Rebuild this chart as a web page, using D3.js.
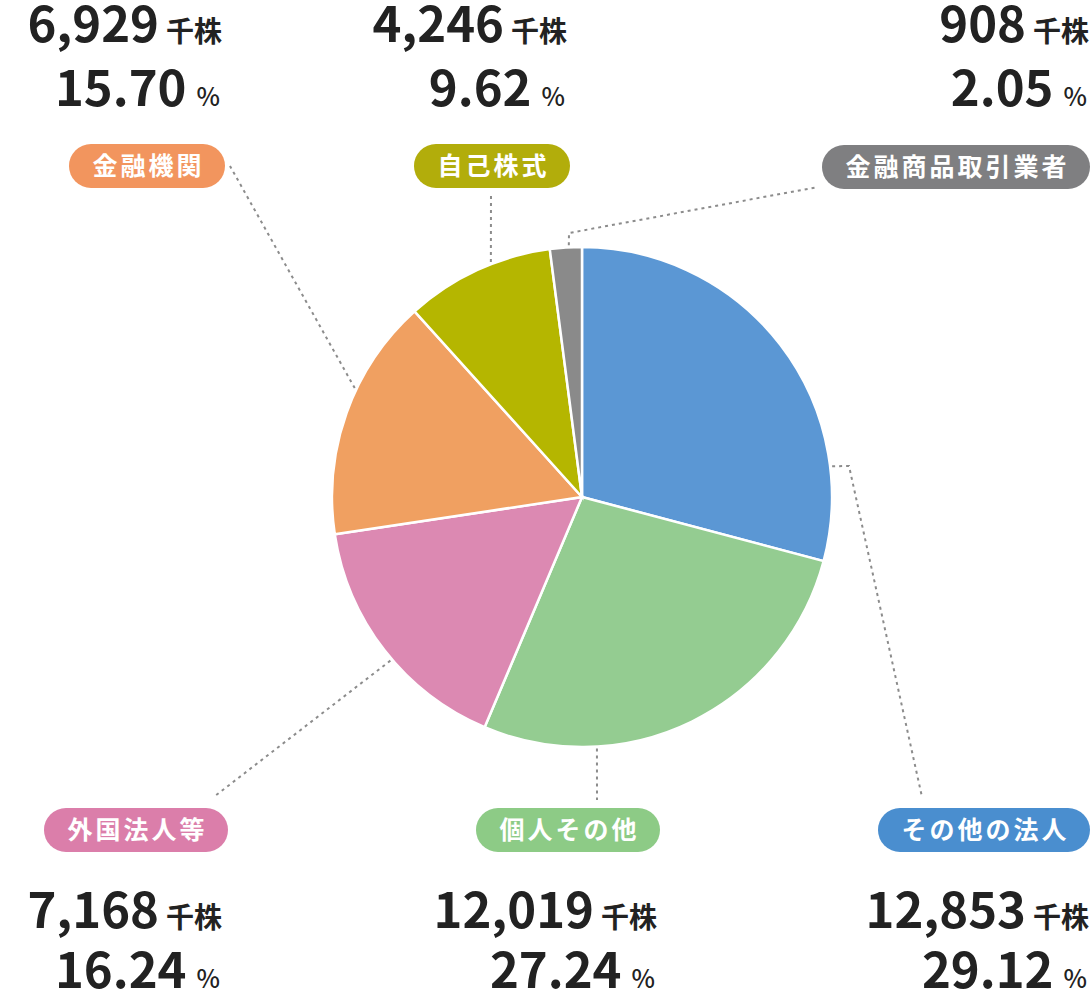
<!DOCTYPE html>
<html lang="ja">
<head>
<meta charset="utf-8">
<script src="https://cdn.jsdelivr.net/npm/d3@7"></script>
<style>
  body { margin: 0; background: #fff; }
  svg { display: block; font-family: "Noto Sans CJK JP", "Noto Sans", sans-serif; }
</style>
</head>
<body>
<svg id="chart" width="1092" height="996"></svg>
<script>
// data, clockwise from 12 o'clock
const categories = ['その他の法人', '個人その他', '外国法人等', '金融機関', '自己株式', '金融商品取引業者'];
const shares = [12853, 12019, 7168, 6929, 4246, 908]; // 千株
const percents = ['29.12', '27.24', '16.24', '15.70', '9.62', '2.05'];
const sliceColors = ['#5b97d4', '#94cc91', '#dc89b2', '#f0a061', '#b5b600', '#8a8a8a'];
const pillColors = ['#4a8ecf', '#8dcb86', '#db7eaa', '#f2955e', '#b2ad0b', '#7f7f81'];

// label layout: right edge of text block, pill centre y, number baselines, leader
const labelPos = [
  { right: 1089, pillRight: 1090, pillY: 830, numY: 928, pctY: 988, angle: 83, elbow: [[849, 466]], end: [922, 797] },
  { right: 657, pillRight: 660, pillY: 830, numY: 928, pctY: 988, angle: 176.6, elbow: [], end: [597, 800] },
  { right: 222, pillRight: 228, pillY: 830, numY: 928, pctY: 988, angle: 229.5, elbow: [], end: [215, 796] },
  { right: 222, pillRight: 225, pillY: 166, numY: 42, pctY: 106, angle: 295.6, elbow: [], end: [230, 166] },
  { right: 567, pillRight: 570, pillY: 166, numY: 42, pctY: 106, angle: 338.8, elbow: [], end: [491, 192] },
  { right: 1089, pillRight: 1090, pillY: 167, numY: 42, pctY: 106, angle: 357, elbow: [[569, 233]], end: [818, 187] }
];

const svg = d3.select('#chart');
const cx = 582, cy = 497, r = 250;

const pie = d3.pie().sort(null).value((d) => d);
const arc = d3.arc().innerRadius(0).outerRadius(r);
const arcData = pie(shares);

// leader lines (under the pie)
const leaders = svg.append('g');
labelPos.forEach((p) => {
  const start = d3.pointRadial(p.angle * Math.PI / 180, r + 2);
  const pts = [[start[0] + cx, start[1] + cy], ...p.elbow, p.end];
  leaders.append('path')
    .attr('d', d3.line()(pts))
    .attr('fill', 'none')
    .attr('stroke', '#8c8c8c')
    .attr('stroke-width', 2)
    .attr('stroke-dasharray', '3,4');
});

const g = svg.append('g').attr('transform', `translate(${cx},${cy})`);
g.selectAll('path')
  .data(arcData)
  .join('path')
  .attr('d', arc)
  .attr('fill', (d, i) => sliceColors[i])
  .attr('stroke', '#fff')
  .attr('stroke-width', 2.5);

// labels
categories.forEach((name, i) => {
  const p = labelPos[i];

  // pill
  const pill = svg.append('g');
  const t = pill.append('text')
    .attr('y', p.pillY + 9)
    .attr('text-anchor', 'middle')
    .attr('font-size', 25)
    .attr('font-weight', 700)
    .attr('letter-spacing', 3)
    .attr('fill', '#fff')
    .text(name);
  const w = t.node().getComputedTextLength() + 44;
  pill.insert('rect', 'text')
    .attr('x', p.pillRight - w)
    .attr('y', p.pillY - 22)
    .attr('width', w)
    .attr('height', 44)
    .attr('rx', 22)
    .attr('fill', pillColors[i]);
  t.attr('x', p.pillRight - w / 2 + 1.5);

  // share count
  const num = svg.append('text')
    .attr('x', p.right)
    .attr('y', p.numY)
    .attr('text-anchor', 'end')
    .attr('fill', '#222');
  num.append('tspan').attr('font-size', 49).attr('font-weight', 700).text(d3.format(',')(shares[i]));
  num.append('tspan').attr('dx', 7).attr('font-size', 28).attr('font-weight', 700).text('千株');

  // percent
  const pct = svg.append('text')
    .attr('x', p.right - 2)
    .attr('y', p.pctY)
    .attr('text-anchor', 'end')
    .attr('fill', '#222');
  pct.append('tspan').attr('font-size', 49).attr('font-weight', 700).text(percents[i]);
  pct.append('tspan').attr('dx', 10).attr('font-size', 25).attr('font-weight', 500).text('%');
});
</script>
</body>
</html>
